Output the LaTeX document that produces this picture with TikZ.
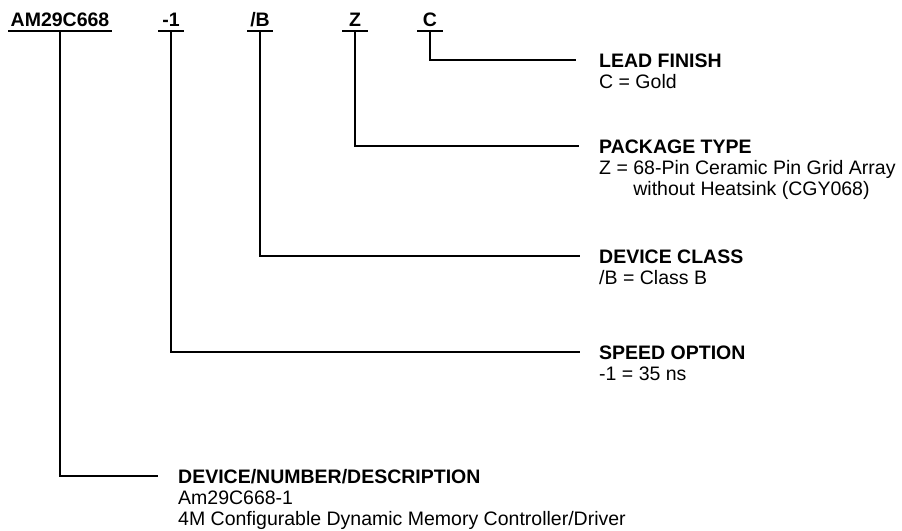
\documentclass[tikz,border=0pt]{standalone}
\usepackage{fontspec}
\setmainfont{Liberation Sans}
\usetikzlibrary{positioning}

\tikzset{
  code/.style={font=\fontsize{19.5}{21}\selectfont\bfseries, anchor=base,
    inner xsep=2pt, inner ysep=0pt, text height=14pt, text depth=5pt,
    minimum width=24pt},
  title/.style={font=\fontsize{19.5}{21}\selectfont\bfseries, anchor=base west,
    inner sep=0pt, text height=14pt, text depth=0pt},
  body/.style={font=\fontsize{19.5}{21.5}\selectfont, anchor=base west,
    inner sep=0pt, align=left},
  lead/.style={line width=1.7pt, line cap=rect},
}

\begin{document}
\begin{tikzpicture}[x=1pt, y=-1pt]
  \useasboundingbox (0,0) rectangle (902,530);

  % Part number fields
  \node[code] (cAM) at (60,26)  {AM29C668};
  \node[code] (cSp) at (171,26) {-1};
  \node[code] (cCl) at (260,26) {/B};
  \node[code] (cPk) at (355,26) {Z};
  \node[code] (cFn) at (430,26) {C};
  \foreach \n in {cAM,cSp,cCl,cPk,cFn}{
    \draw[lead] (\n.south west) -- (\n.south east);
  }

  % Descriptions (base of a two-line body is its last line)
  \node[title] (tFn) at (599,67) {LEAD FINISH};
  \node[body] (bFn) at ([yshift=-21pt]tFn.base west) {C = Gold};

  \node[title] (tPk) at (599,153) {PACKAGE TYPE};
  \node[body] (bPk) at ([yshift=-42.5pt]tPk.base west)
    {Z = 68-Pin Ceramic Pin Grid Array\\\phantom{Z = }without Heatsink (CGY068)};

  \node[title] (tCl) at (599,263) {DEVICE CLASS};
  \node[body] (bCl) at ([yshift=-21pt]tCl.base west) {/B = Class B};

  \node[title] (tSp) at (599,359) {SPEED OPTION};
  \node[body] (bSp) at ([yshift=-21pt]tSp.base west) {-1 = 35 ns};

  \node[title] (tAM) at (178,483) {DEVICE/NUMBER/DESCRIPTION};
  \node[body] (bAM) at ([yshift=-42.5pt]tAM.base west)
    {Am29C668-1\\4M Configurable Dynamic Memory Controller/Driver};

  % Leaders
  \draw[lead] (cFn.south) |- ([xshift=-24pt]tFn.west);
  \draw[lead] (cPk.south) |- ([xshift=-21pt]tPk.west);
  \draw[lead] (cCl.south) |- ([xshift=-20pt]tCl.west);
  \draw[lead] (cSp.south) |- ([xshift=-20pt]tSp.west);
  \draw[lead] (cAM.south) |- ([xshift=-21pt]tAM.west);
\end{tikzpicture}
\end{document}
